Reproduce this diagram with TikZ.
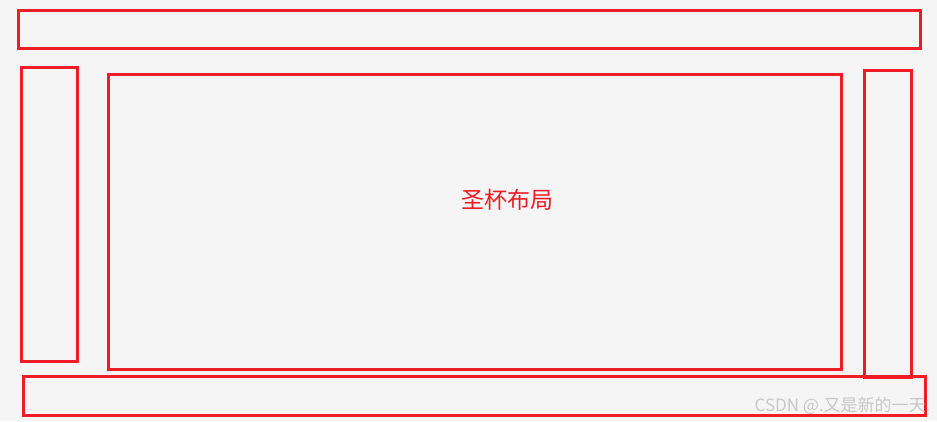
\documentclass[tikz,border=0pt]{standalone}
\usepackage{fontspec}
\newfontfamily\cjk{Noto Sans CJK SC}
\definecolor{bg}{HTML}{F5F5F5}
\definecolor{rd}{HTML}{EE1C25}
\definecolor{wm}{HTML}{C8C8C8}
\begin{document}
\begin{tikzpicture}[x=1pt,y=-1pt,
  box/.style={draw=rd,line width=3pt,inner sep=0pt}]
\fill[bg] (0,0) rectangle (937,421);
\useasboundingbox (0,0) rectangle (937,421);
\draw[box] (18,10) rectangle (920,48);
\draw[box] (21.5,67.5) rectangle (77,361);
\draw[box] (108.5,74.5) rectangle (841,369);
\draw[box] (864.5,70.5) rectangle (911,377);
\draw[box] (23.5,376.5) rectangle (925,415);
\node[text=rd,font=\cjk\fontsize{23}{26}\selectfont] (title) at (507,200) {圣杯布局};
\node[text=wm,font=\cjk\fontsize{17}{20}\selectfont,anchor=east] (mark) at (934,406) {CSDN @.又是新的一天.};
\end{tikzpicture}
\end{document}
